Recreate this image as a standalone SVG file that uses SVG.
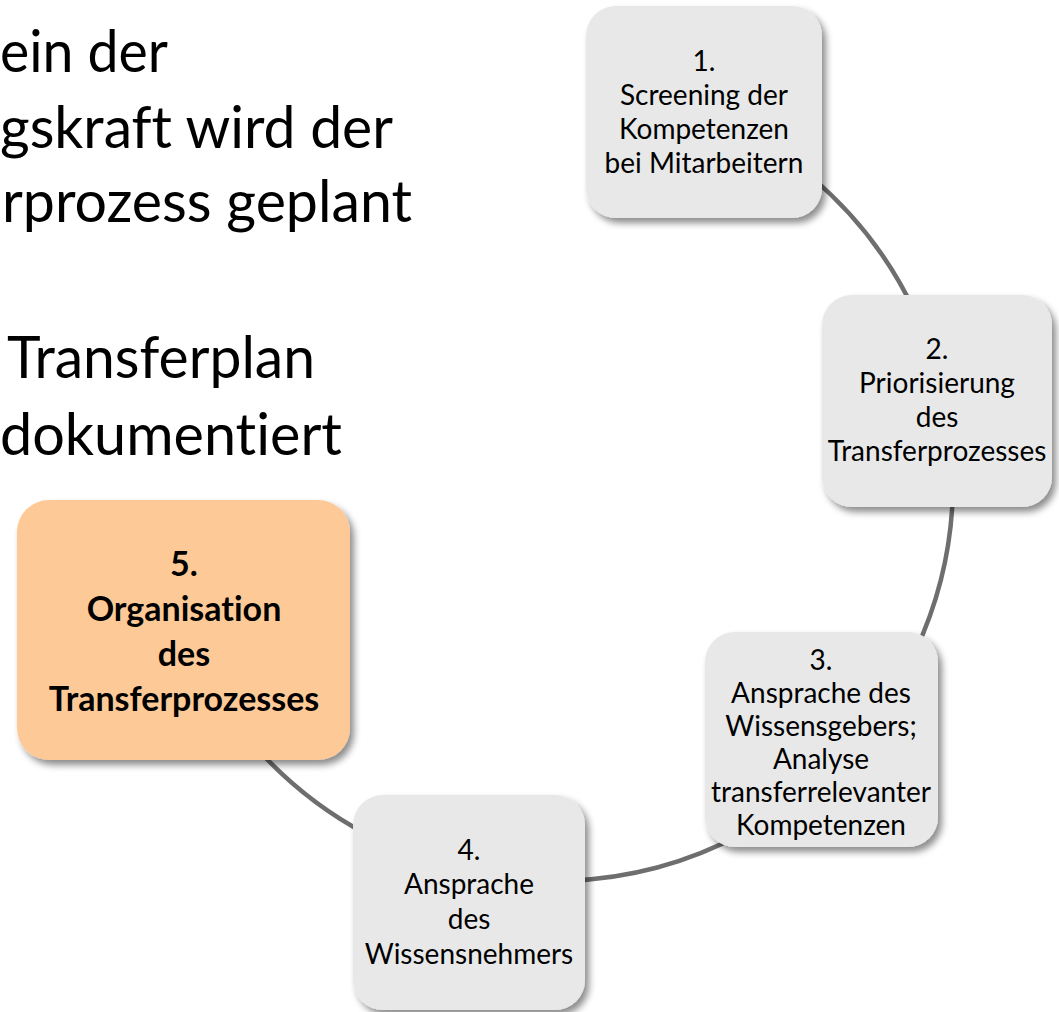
<svg xmlns="http://www.w3.org/2000/svg" width="1059" height="1012" viewBox="0 0 1059 1012">
  <defs>
    <filter id="shadow" x="-10%" y="-10%" width="125%" height="125%">
      <feDropShadow dx="4" dy="5" stdDeviation="3.5" flood-color="#000" flood-opacity="0.45"/>
    </filter>
  </defs>
  <style>
    text { font-variant-ligatures: none; font-feature-settings: "liga" 0, "clig" 0; }
    .box { fill: #E8E8E8; filter: url(#shadow); }
    .hl { fill: #FDCA97; filter: url(#shadow); }
    .t { font-family: Lato, "Open Sans", sans-serif; font-size: 28px; fill: #000; text-anchor: middle; }
    .tb { font-family: Lato, "Open Sans", sans-serif; font-size: 34px; font-weight: bold; fill: #000; text-anchor: middle; }
    .big { font-family: Lato, "Open Sans", sans-serif; font-size: 58px; fill: #000; }
    .conn { fill: none; stroke: #6E6E6E; stroke-width: 4.5; }
  </style>
  <rect width="1059" height="1012" fill="#fff"/>

  <g id="left-text">
    <text class="big" x="0" y="72" textLength="168" lengthAdjust="spacingAndGlyphs">ein der</text>
    <text class="big" x="0" y="148" textLength="393" lengthAdjust="spacingAndGlyphs">gskraft wird der</text>
    <text class="big" x="2" y="222" textLength="410" lengthAdjust="spacingAndGlyphs">rprozess geplant</text>
    <text class="big" x="7" y="378" textLength="308" lengthAdjust="spacingAndGlyphs">Transferplan</text>
    <text class="big" x="0" y="455" textLength="342" lengthAdjust="spacingAndGlyphs">dokumentiert</text>
  </g>

  <g id="connectors">
    <path class="conn" d="M 810.5 176.4 A 399 399 0 0 1 915.6 313.4"/>
    <path class="conn" d="M 953 482 A 399 399 0 0 1 915.6 650.6"/>
    <path class="conn" d="M 741.3 834.3 A 399 399 0 0 1 567.9 880.8"/>
    <path class="conn" d="M 366.7 834.3 A 399 399 0 0 1 257.5 749"/>
  </g>

  <g id="node1">
    <rect class="box" x="586" y="6" width="236" height="212" rx="30"/>
    <text class="t" x="704" y="71">1.</text>
    <text class="t" x="704" y="105">Screening der</text>
    <text class="t" x="704" y="139">Kompetenzen</text>
    <text class="t" x="704" y="173">bei Mitarbeitern</text>
  </g>

  <g id="node2">
    <rect class="box" x="822" y="295" width="230" height="212" rx="30"/>
    <text class="t" x="937" y="359">2.</text>
    <text class="t" x="937" y="393">Priorisierung</text>
    <text class="t" x="937" y="427">des</text>
    <text class="t" x="937" y="461">Transferprozesses</text>
  </g>

  <g id="node3">
    <rect class="box" x="705" y="632" width="233" height="215" rx="30"/>
    <text class="t" x="821" y="670">3.</text>
    <text class="t" x="821" y="703">Ansprache des</text>
    <text class="t" x="821" y="736">Wissensgebers;</text>
    <text class="t" x="821" y="769">Analyse</text>
    <text class="t" x="821" y="802">transferrelevanter</text>
    <text class="t" x="821" y="835">Kompetenzen</text>
  </g>

  <g id="node4">
    <rect class="box" x="353" y="795" width="232" height="215" rx="30"/>
    <text class="t" x="469" y="860">4.</text>
    <text class="t" x="469" y="894">Ansprache</text>
    <text class="t" x="469" y="929">des</text>
    <text class="t" x="469" y="964">Wissensnehmers</text>
  </g>

  <g id="node5">
    <rect class="hl" x="17" y="500" width="333" height="260" rx="32"/>
    <text class="tb" x="184" y="576">5.</text>
    <text class="tb" x="184" y="621">Organisation</text>
    <text class="tb" x="184" y="666">des</text>
    <text class="tb" x="184" y="711">Transferprozesses</text>
  </g>
</svg>
